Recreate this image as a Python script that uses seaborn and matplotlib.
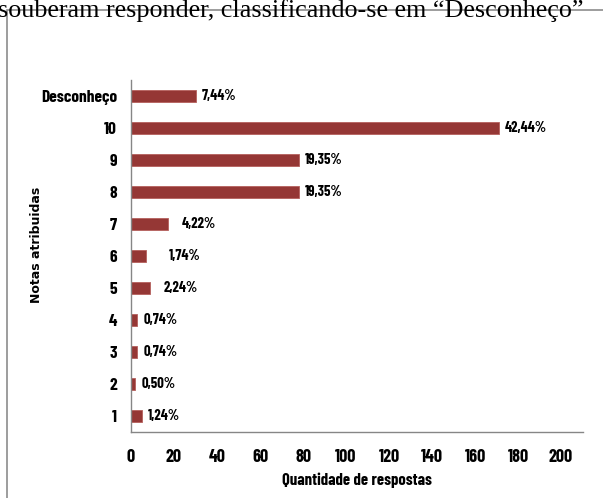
import matplotlib
matplotlib.use("Agg")
import matplotlib.pyplot as plt
from matplotlib.patches import Rectangle
from matplotlib.ticker import MultipleLocator, FixedLocator
import seaborn as sns
import pandas as pd

# Notas atribuídas (de cima para baixo) e quantidade de respostas
categories = ["Desconheço", "10", "9", "8", "7", "6", "5", "4", "3", "2", "1"]
counts = [30, 171, 78, 78, 17, 7, 9, 3, 3, 2, 5]
percent_labels = ["7,44%", "42,44%", "19,35%", "19,35%", "4,22%", "1,74%",
                  "2,24%", "0,74%", "0,74%", "0,50%", "1,24%"]
x_ticks = [0, 20, 40, 60, 80, 100, 120, 140, 160, 180, 200]

# extra horizontal nudge (points) for a few value labels
label_nudge = [0, 0, 0, 0, 6, 12, 5, 0, 0, 0, 0]

df = pd.DataFrame({"nota": categories, "qtd": counts})

sns.set_theme(style="white")
narrow = ["Barlow Condensed", "DejaVu Sans"]
plt.rcParams["font.family"] = narrow

W, H = 603, 498
fig = plt.figure(figsize=(W / 100, H / 100), dpi=100)

# frame around the chart object
fig.patches.append(Rectangle((7 / W, -0.05), 1.2, 1 - 10 / H + 0.05,
                             transform=fig.transFigure, fill=False,
                             edgecolor="#8c8c8c", linewidth=1.2))

# running text of the page above the chart
fig.text(-2 / W, 1 - 17 / H,
         "souberam responder, classificando-se em “Desconheço”",
         family=["Liberation Serif", "DejaVu Serif"], fontsize=18.8,
         ha="left", va="baseline", color="black")

ax = fig.add_axes([131 / W, 1 - 432 / H, (582.5 - 131) / W, (432 - 80) / H])
bar_color = "#953735"
sns.barplot(data=df, x="qtd", y="nota", order=categories, orient="h",
            color=bar_color, width=0.4, saturation=1, ax=ax,
            edgecolor="#b5605d", linewidth=0.6)

for i, (v, lab) in enumerate(zip(counts, percent_labels)):
    ax.annotate(lab, xy=(v, i), xytext=(4.5 + label_nudge[i], 0),
                textcoords="offset points", ha="left", va="center",
                fontsize=10.5, fontweight="bold", family=narrow, color="black")

ax.set_xlim(0, 210)
ax.set_ylim(len(categories) - 0.5, -0.5)
ax.xaxis.set_major_locator(FixedLocator(x_ticks))
ax.xaxis.set_minor_locator(MultipleLocator(7))
ax.yaxis.set_minor_locator(FixedLocator([k + 0.5 for k in range(-1, len(categories))]))

ax.tick_params(axis="x", which="major", length=5, width=1, color="#868686",
               direction="out", pad=7, labelsize=13)
ax.tick_params(axis="x", which="minor", length=3, width=0.8, color="#868686",
               direction="out")
ax.tick_params(axis="y", which="major", length=0, pad=10, labelsize=12.5)
ax.tick_params(axis="y", which="minor", length=4, width=1, color="#868686",
               direction="out")
for t in ax.get_xticklabels() + ax.get_yticklabels():
    t.set_fontweight("bold")
    t.set_color("black")

for side in ["top", "right"]:
    ax.spines[side].set_visible(False)
for side in ["left", "bottom"]:
    ax.spines[side].set_color("#868686")
    ax.spines[side].set_linewidth(1)

ax.set_xlabel("Quantidade de respostas", fontsize=12, fontweight="bold",
              color="black", labelpad=5)
ax.set_ylabel("")
fig.text(36 / W, 1 - 245 / H, "Notas atribuidas", rotation=90,
         family=["DejaVu Sans"], fontsize=9, fontweight="bold",
         ha="center", va="center", color="black")

fig.savefig("out.png", dpi=100)
